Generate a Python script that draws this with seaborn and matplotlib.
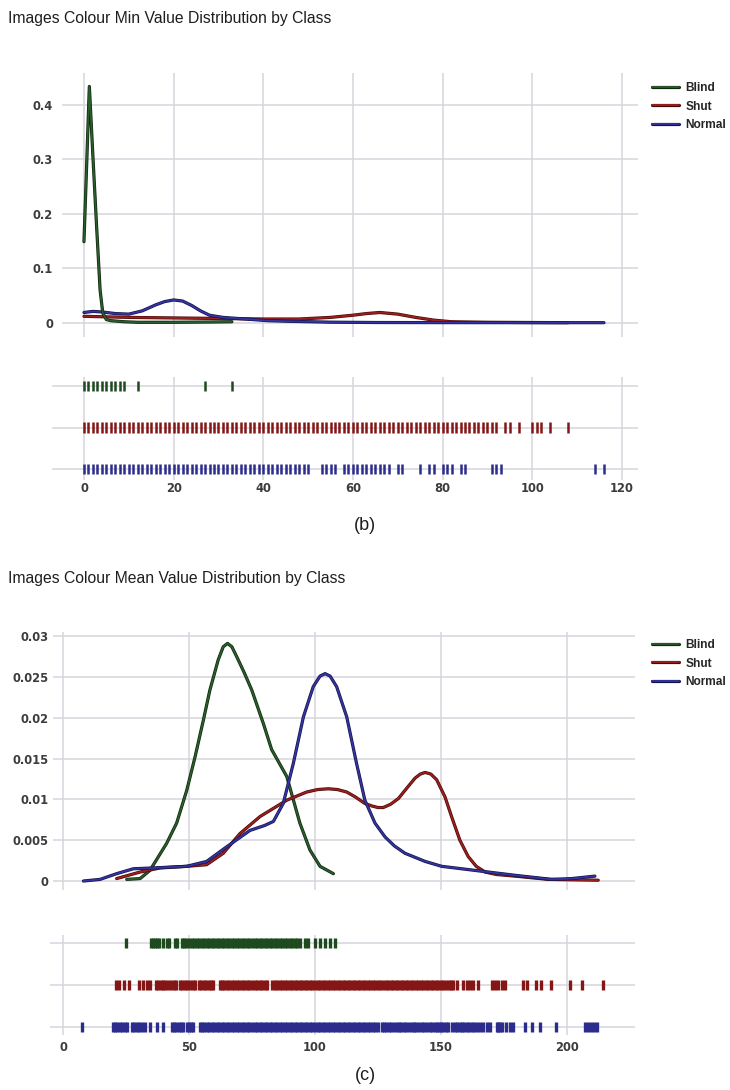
import matplotlib
matplotlib.use("Agg")
import matplotlib.pyplot as plt
import matplotlib.patheffects as pe
from matplotlib.lines import Line2D
import pandas as pd
import seaborn as sns

# ---------------- data ----------------
classes = ["Blind", "Shut", "Normal"]

# (b) min value: density curves
min_blind_x = [0, 0.6, 1.2, 2.0, 2.8, 3.6, 4.2, 5.0, 6.0, 9.0, 12.0, 20.0, 28.0, 33.0]
min_blind_y = [0.149, 0.29, 0.434, 0.305, 0.18, 0.06, 0.018, 0.006, 0.004, 0.002, 0.001, 0.001, 0.0015, 0.002]
min_shut_x = [0, 10, 20, 30, 40, 48, 55, 60, 63, 66, 70, 74, 78, 82, 90, 100, 108]
min_shut_y = [0.012, 0.010, 0.009, 0.008, 0.007, 0.007, 0.010, 0.014, 0.017, 0.019, 0.016, 0.010, 0.005, 0.002, 0.001, 0.0006, 0.0003]
min_normal_x = [0, 2, 4, 7, 10, 13, 16, 18, 20, 22, 24, 26, 28, 31, 36, 41, 45, 55, 65, 80, 100, 116]
min_normal_y = [0.019, 0.021, 0.020, 0.017, 0.016, 0.022, 0.033, 0.039, 0.042, 0.040, 0.032, 0.022, 0.014, 0.010, 0.007, 0.004, 0.003, 0.0012, 0.0006, 0.0004, 0.0003, 0.0003]

# (b) min value: rug observations
min_blind_rug = [0, 1, 2, 3, 4, 5, 6, 7, 8, 9, 12, 27, 33]
min_shut_rug = [0, 1, 2, 3, 4, 5, 6, 7, 8, 9, 10, 11, 12, 13, 14, 15, 16, 17, 18, 19,
                20, 21, 22, 23, 24, 25, 26, 27, 28, 29, 30, 31, 32, 33, 34, 35, 36, 37, 38, 39,
                40, 41, 42, 43, 44, 45, 46, 47, 48, 49, 50, 51, 52, 53, 54, 55, 56, 57, 58, 59,
                60, 61, 62, 63, 64, 65, 66, 67, 68, 69, 70, 71, 72, 73, 74, 75, 76, 77, 78, 79,
                80, 81, 82, 83, 84, 85, 86, 87, 88, 89, 90, 91, 92, 94, 95, 97, 100, 101, 102, 104, 108]
min_normal_rug = [0, 1, 2, 3, 4, 5, 6, 7, 8, 9, 10, 11, 12, 13, 14, 15, 16, 17, 18, 19,
                  20, 21, 22, 23, 24, 25, 26, 27, 28, 29, 30, 31, 32, 33, 34, 35, 36, 37, 38, 39,
                  40, 41, 42, 43, 44, 45, 46, 47, 48, 49, 50, 53, 54, 55, 56, 58, 59, 60, 61, 62,
                  63, 64, 65, 66, 67, 68, 70, 71, 75, 77, 78, 80, 81, 82, 84, 85, 91, 92, 93, 114, 116]

# (c) mean value: density curves
mean_blind_x = [25.3, 30.6, 34.5, 41.1, 45.1, 49.1, 52.4, 55.7, 58.3, 61.6, 63.6, 65.3, 67.0, 68.9, 71.8, 74.9, 79.5, 82.8, 88.8, 94.0, 98.0, 102.0, 107.3]
mean_blind_y = [0.0002, 0.0003, 0.0013, 0.0046, 0.0071, 0.0111, 0.0152, 0.0197, 0.0234, 0.0271, 0.0287, 0.0291, 0.0287, 0.0275, 0.0256, 0.0234, 0.0193, 0.0161, 0.0128, 0.0071, 0.0038, 0.0018, 0.0009]
mean_shut_x = [21.3, 30.6, 38.5, 49.1, 57.0, 63.6, 70.2, 78.2, 88.8, 96.7, 101.0, 105.3, 109.0, 112.6, 116.0, 119.8, 122.5, 125.0, 127.1, 130.0, 133.1, 136.5, 139.7, 141.8, 143.7, 146.0, 148.3, 151.6, 154.2, 157.5, 160.8, 164.0, 167.5, 172.0, 179.4, 192.6, 212.4]
mean_shut_y = [0.0003, 0.0011, 0.0016, 0.0018, 0.0020, 0.0034, 0.0058, 0.0079, 0.0099, 0.0109, 0.0112, 0.0113, 0.0112, 0.0109, 0.0103, 0.0095, 0.0092, 0.0090, 0.0090, 0.0094, 0.0101, 0.0114, 0.0126, 0.0131, 0.0133, 0.0131, 0.0124, 0.0103, 0.0079, 0.0050, 0.0030, 0.0018, 0.0011, 0.0008, 0.0006, 0.0002, 0.0001]
mean_normal_x = [8.1, 14.7, 21.3, 27.9, 35.8, 49.1, 57.0, 65.0, 74.2, 80.0, 83.5, 87.4, 91.4, 95.4, 99.3, 102.0, 104.0, 106.0, 108.6, 112.6, 116.5, 119.8, 123.8, 127.8, 131.5, 135.7, 143.7, 150.3, 163.5, 179.4, 193.9, 201.9, 211.1]
mean_normal_y = [0.0, 0.0002, 0.0009, 0.0015, 0.0016, 0.0018, 0.0024, 0.0042, 0.0062, 0.0068, 0.0073, 0.0095, 0.0144, 0.0201, 0.0238, 0.0251, 0.0254, 0.0251, 0.0238, 0.0201, 0.0144, 0.0099, 0.0071, 0.0054, 0.0043, 0.0034, 0.0024, 0.0018, 0.0013, 0.0007, 0.0002, 0.0003, 0.0006]

# (c) mean value: rug observations
mean_blind_rug = [25.0, 34.8, 35.6, 36.4, 37.2, 38.0, 39.8, 41.1, 42.0, 44.4, 45.3, 47.1, 48.0, 49.0,
                  50, 51, 52, 53, 54, 55, 56, 57, 58, 59, 60, 61, 62, 63, 64, 65, 66, 67, 68, 69,
                  70, 71, 72, 73, 74, 75, 76, 77, 78, 79, 80, 81, 82, 83, 84, 85, 86, 87, 88, 89,
                  90, 91, 92, 93, 94, 96.0, 97.4, 100.0, 102.0, 104.0, 106.0, 108.0]
mean_shut_rug = [20.9, 22.2, 24.2, 26.2, 30.3, 31.9, 33.2, 34.5, 36.9, 37.8, 38.7, 39.6, 40.5,
                 41.7, 42.7, 44.0, 45.0, 46.4, 47.4, 48.4, 49.4, 50.4, 51.4, 52.4, 53.8, 54.8,
                 55.8, 56.8, 57.8, 58.8, 59.6, 62.3, 63, 64, 65, 66, 67, 68, 69, 70, 71, 72, 73,
                 74, 75, 76, 77, 78, 79, 80, 81, 82.9, 84, 85, 86, 87, 88, 89, 90, 91, 92, 93,
                 94, 95, 96, 97, 98, 99, 100, 101, 102, 103, 104, 105, 106, 107, 108, 109, 110,
                 111, 112, 113, 114, 115, 116, 117, 118, 119, 120, 121, 122, 123, 124, 125, 126,
                 127, 128, 129, 130, 131, 132, 133, 134, 135, 136, 137, 138, 139, 140, 141, 142,
                 143, 144, 145, 146, 147, 148, 149, 150, 151, 152, 153, 154, 154.9,
                 156.5, 158.9, 160.3, 161.5, 162.8, 164.8, 170.1, 171.4, 172.8, 174.1, 175.4,
                 182.7, 184.2, 187.7, 189.6, 193.5, 201.2, 205.8, 214.2]
mean_normal_rug = [7.7, 20.0, 20.8, 21.6, 22.6, 23.6, 24.5, 25.3, 27.3, 28.3, 29.3, 30.3, 31.4,
                   32.5, 34.5, 37.2, 39.8, 43.1, 44.0, 45.0, 46.0, 47.0, 47.7, 49.1, 50.0, 50.8,
                   51.7, 54.4, 55, 56, 57, 58, 59, 60, 61, 62, 63, 64, 65, 66, 67, 68, 69, 70,
                   71, 72, 73, 74, 75, 76, 77, 78, 79, 80, 81, 82, 83, 84, 85, 86, 87, 88, 89,
                   90, 91, 92, 93, 94, 95, 96, 97, 98, 99, 100, 101, 102, 103, 104, 105, 106,
                   107, 108, 109, 110, 111, 112, 113, 114, 115, 116, 117, 118, 119, 120, 121,
                   122, 123, 124, 125, 126.5, 127.4, 128.3, 129.4, 130.3, 131.2, 132.4, 133.3,
                   134.2, 135.4, 136.3, 137.3, 138.4, 139.3, 140.2, 141.4, 142.3, 143.4, 144.5,
                   145.6, 146.6, 147.5, 148.3, 149.2, 150.0, 150.9, 151.8, 152.9, 154.2, 155.6,
                   156.5, 157.4, 158.4, 159.3, 160.3, 161.3, 162.4, 163.3, 164.2, 165.5, 166.8,
                   168.1, 169.4, 172.1, 172.8, 173.5, 174.1, 176.0, 177.4, 178.7, 183.3, 186.0,
                   189.3, 195.6, 207.1, 208.2, 209.4, 210.6, 211.8]

min_xticks = [0, 20, 40, 60, 80, 100, 120]
min_xticklabels = ["0", "20", "40", "60", "80", "100", "120"]
min_yticks = [0, 0.1, 0.2, 0.3, 0.4]
min_yticklabels = ["0", "0.1", "0.2", "0.3", "0.4"]
mean_xticks = [0, 50, 100, 150, 200]
mean_xticklabels = ["0", "50", "100", "150", "200"]
mean_yticks = [0, 0.005, 0.01, 0.015, 0.02, 0.025, 0.03]
mean_yticklabels = ["0", "0.005", "0.01", "0.015", "0.02", "0.025", "0.03"]

title_b = "Images Colour Min Value Distribution by Class"
title_c = "Images Colour Mean Value Distribution by Class"

# ---------------- style ----------------
sns.set_style("white")
plt.rcParams["font.family"] = ["DejaVu Sans"]

CORE = {"Blind": "#2b5c2b", "Shut": "#9a2020", "Normal": "#3434a0"}
EDGE = {"Blind": "#0e260e", "Shut": "#4a0808", "Normal": "#14144a"}
RUG = {"Blind": "#1f4a1f", "Shut": "#841616", "Normal": "#2c2c8c"}
GRID = "#d4d4dc"
TICKC = "#3c3c3c"

def peff(c):
    return [pe.Stroke(linewidth=2.3, foreground=EDGE[c]), pe.Normal()]

W, H = 730, 1090
fig = plt.figure(figsize=(W / 100, H / 100), dpi=100)

def frac(left, top, right, bottom):
    return [left / W, 1 - bottom / H, (right - left) / W, (bottom - top) / H]

ax_b = fig.add_axes(frac(62, 73, 638, 337))
ax_br = fig.add_axes(frac(52, 377, 638, 480))
ax_c = fig.add_axes(frac(53, 632, 635, 890))
ax_cr = fig.add_axes(frac(50, 935, 635, 1035))

def base_style(ax):
    for s in ax.spines.values():
        s.set_visible(False)
    ax.grid(True, color=GRID, lw=1.1)
    ax.set_axisbelow(True)
    ax.tick_params(length=0, labelsize=8.3, labelcolor=TICKC)
    for lab in ax.get_xticklabels() + ax.get_yticklabels():
        lab.set_fontweight("bold")

def density(ax, curves):
    for cls, xs, ys in curves:
        df = pd.DataFrame({"x": xs, "y": ys})
        sns.lineplot(data=df, x="x", y="y", color=CORE[cls], lw=1.3, sort=False,
                     estimator=None, ax=ax, path_effects=peff(cls))
    ax.set_xlabel("")
    ax.set_ylabel("")

def rug(ax, rugs, size, lw):
    frames = [pd.DataFrame({"v": vals, "cls": cls}) for cls, vals in rugs]
    df = pd.concat(frames, ignore_index=True)
    sns.scatterplot(data=df, x="v", y="cls", hue="cls", palette=RUG, marker="|",
                    s=size, linewidth=lw, legend=False, ax=ax)
    ax.set_xlabel("")
    ax.set_ylabel("")

# (b)
density(ax_b, [("Shut", min_shut_x, min_shut_y),
               ("Normal", min_normal_x, min_normal_y),
               ("Blind", min_blind_x, min_blind_y)])
ax_b.set_xlim(-4.9, 123.6)
ax_b.set_ylim(-0.026, 0.4587)
ax_b.set_xticks(min_xticks)
ax_b.set_xticklabels([])
ax_b.set_yticks(min_yticks)
ax_b.set_yticklabels(min_yticklabels)
base_style(ax_b)
ax_b.tick_params(axis="y", pad=6.5)

rug(ax_br, [("Blind", min_blind_rug), ("Shut", min_shut_rug), ("Normal", min_normal_rug)], 52, 1.8)
ax_br.set_xlim(-7.14, 123.6)
ax_br.set_ylim(2.265, -0.217)
ax_br.set_xticks(min_xticks)
ax_br.set_xticklabels(min_xticklabels)
ax_br.set_yticks([0, 1, 2])
ax_br.set_yticklabels([])
base_style(ax_br)
ax_br.tick_params(axis="x", pad=1.8)

# (c)
density(ax_c, [("Blind", mean_blind_x, mean_blind_y),
               ("Shut", mean_shut_x, mean_shut_y),
               ("Normal", mean_normal_x, mean_normal_y)])
ax_c.set_xlim(-3.97, 227.0)
ax_c.set_ylim(-0.0011, 0.0305)
ax_c.set_xticks(mean_xticks)
ax_c.set_xticklabels([])
ax_c.set_yticks(mean_yticks)
ax_c.set_yticklabels(mean_yticklabels)
base_style(ax_c)
ax_c.tick_params(axis="y", pad=3)

rug(ax_cr, [("Blind", mean_blind_rug), ("Shut", mean_shut_rug), ("Normal", mean_normal_rug)], 44, 2.4)
ax_cr.set_xlim(-5.16, 227.0)
ax_cr.set_ylim(2.19, -0.19)
ax_cr.set_xticks(mean_xticks)
ax_cr.set_xticklabels(mean_xticklabels)
ax_cr.set_yticks([0, 1, 2])
ax_cr.set_yticklabels([])
base_style(ax_cr)
ax_cr.tick_params(axis="x", pad=4)

# legends
legfont = {"family": ["Liberation Sans", "DejaVu Sans"], "weight": "bold", "size": 8.6}
for ax, top in ((ax_b, 82), (ax_c, 639)):
    handles = [Line2D([0], [0], color=CORE[c], lw=1.3, path_effects=peff(c)) for c in classes]
    ax.legend(handles, classes, loc="upper left", bbox_to_anchor=(652 / W, 1 - top / H),
              bbox_transform=fig.transFigure, frameon=False, handlelength=2.3,
              handletextpad=0.5, labelspacing=0.55, borderpad=0, borderaxespad=0,
              prop=legfont)

titlefont = {"family": ["Liberation Sans", "DejaVu Sans"], "size": 11.3, "color": "#1e1e1e"}
fig.text(8 / W, 1 - 18 / H, title_b, ha="left", va="center", **titlefont)
fig.text(8 / W, 1 - 578 / H, title_c, ha="left", va="center", **titlefont)

capfont = {"family": ["Liberation Sans", "DejaVu Sans"], "size": 13, "color": "#1e1e1e"}
fig.text(365 / W, 1 - 525 / H, "(b)", ha="center", va="center", **capfont)
fig.text(365 / W, 1 - 1076 / H, "(c)", ha="center", va="center", **capfont)

fig.savefig("out.png", dpi=100, facecolor="white")
